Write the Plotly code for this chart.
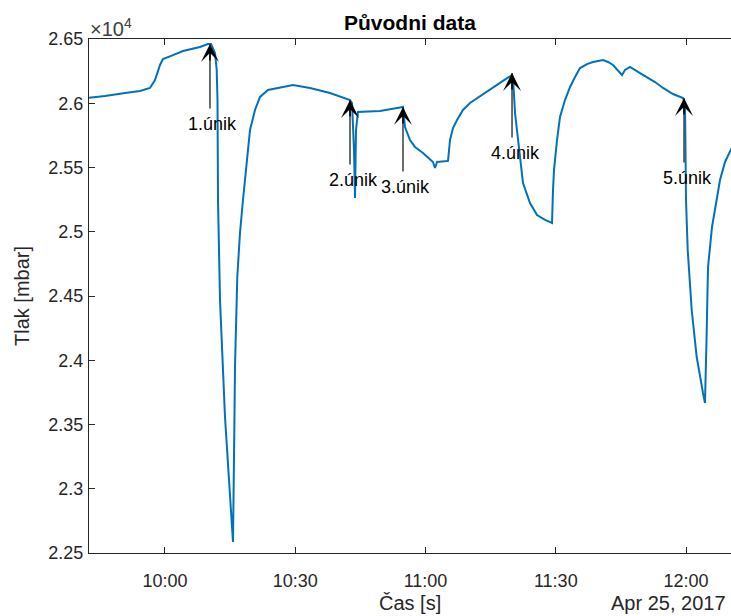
import pandas as pd
import plotly.graph_objects as go

# ---- data ----
# time in minutes after 10:00 on 2017-04-25, pressure in mbar
time_min = [-17.50, -13.82, -9.21, -5.76, -3.45, -2.30, -1.15, -0.46, 1.84, 4.15,
            8.06, 9.90, 10.59, 11.52, 11.91, 12.09, 12.21, 12.67, 13.82, 14.97,
            15.66, 15.96, 16.12, 16.65, 17.27, 17.96, 18.82, 19.58, 20.73, 21.88,
            23.72, 26.49, 29.48, 33.39, 38.00, 42.61, 43.07, 43.53, 43.76, 43.99,
            44.45, 49.52, 54.81, 55.27, 56.43, 57.58, 59.42, 61.72, 62.18, 62.65,
            65.18, 65.64, 66.33, 67.25, 68.63, 70.24, 72.55, 74.85, 77.15, 79.92,
            80.15, 80.61, 81.30, 82.45, 84.06, 85.68, 87.52, 89.13, 89.36, 89.59,
            90.28, 90.97, 92.12, 93.28, 94.43, 95.58, 97.19, 98.57, 100.88, 102.03,
            103.18, 104.33, 105.25, 105.94, 107.09, 109.40, 111.01, 112.85, 114.70, 117.00,
            119.30, 119.76, 119.99, 120.38, 121.30, 122.45, 123.90, 124.36, 124.71, 125.06,
            125.98, 127.13, 127.82, 128.97, 130.50]
pressure = [26043, 26056, 26080, 26095, 26119, 26181, 26298, 26344, 26375, 26407,
            26438, 26461, 26461, 26391, 26259, 26025, 25247, 24469, 23558, 22967,
            22586, 23434, 23948, 24648, 24990, 25247, 25535, 25792, 25948, 26049,
            26103, 26119, 26142, 26119, 26080, 26025, 26002, 25636, 25263, 25792,
            25932, 25940, 25971, 25815, 25714, 25660, 25613, 25543, 25496, 25543,
            25551, 25714, 25807, 25870, 25948, 26002, 26056, 26103, 26158, 26220,
            26197, 25924, 25714, 25379, 25224, 25130, 25092, 25068, 25325, 25481,
            25714, 25893, 26025, 26127, 26204, 26274, 26305, 26321, 26337, 26321,
            26298, 26259, 26220, 26259, 26282, 26235, 26204, 26165, 26119, 26072,
            26041, 25986, 25247, 24858, 24391, 24025, 23745, 23667, 24158, 24726,
            25037, 25247, 25403, 25543, 25650]

leak_labels = ["1.únik", "2.únik", "3.únik", "4.únik", "5.únik"]
leak_time_min = [10.36, 42.61, 54.81, 79.92, 119.53]
leak_pressure = [26461, 26025, 25971, 26235, 26041]

y_tick_vals = [22500, 23000, 23500, 24000, 24500, 25000, 25500, 26000, 26500]
y_tick_text = ["2.25", "2.3", "2.35", "2.4", "2.45", "2.5", "2.55", "2.6", "2.65"]
x_range_min = [-17.5, 130.35]

base = pd.Timestamp("2017-04-25 10:00:00")
to_t = lambda m: base + pd.to_timedelta(m, unit="min")
t = [to_t(m) for m in time_min]

FONT = "Liberation Sans, Arial, Helvetica, sans-serif"
AX = "#262626"

fig = go.Figure()
fig.add_trace(go.Scatter(x=t, y=pressure, mode="lines",
                         line=dict(color="#0072BD", width=2), hoverinfo="skip",
                         showlegend=False))

annotations = []
for lab, m, p in zip(leak_labels, leak_time_min, leak_pressure):
    tt = to_t(m)
    # gray shaft
    annotations.append(dict(x=tt, y=p, xref="x", yref="y", text="", showarrow=True,
                            arrowhead=0, arrowwidth=1.6, arrowcolor="#4a4a4a",
                            ax=0, ay=66, axref="pixel", ayref="pixel"))
    # black head
    annotations.append(dict(x=tt, y=p, xref="x", yref="y", text="", showarrow=True,
                            arrowhead=3, arrowsize=2.0, arrowwidth=1.5, arrowcolor="#000000",
                            ax=0, ay=18, axref="pixel", ayref="pixel"))
    annotations.append(dict(x=tt, y=p, xref="x", yref="y", text=lab, showarrow=False,
                            xshift=3, yshift=-80, font=dict(family=FONT, size=18, color="#000000")))

annotations += [
    dict(x=0.5, y=0.0, xref="paper", yref="paper", text="Čas [s]", showarrow=False,
         yanchor="middle", xanchor="center", yshift=-50,
         font=dict(family=FONT, size=20, color=AX)),
    dict(x=1.0, y=0.0, xref="paper", yref="paper", text="Apr 25, 2017", showarrow=False,
         xanchor="right", yanchor="middle", xshift=-3, yshift=-50,
         font=dict(family=FONT, size=20, color=AX)),
    dict(x=0.0, y=0.5, xref="paper", yref="paper", text="Tlak [mbar]", showarrow=False,
         textangle=-90, xanchor="center", yanchor="middle", xshift=-67,
         font=dict(family=FONT, size=20, color=AX)),
    dict(x=0.0, y=1.0, xref="paper", yref="paper", text="×10<sup>4</sup>", showarrow=False,
         xanchor="left", yanchor="bottom", xshift=-1, yshift=-3,
         font=dict(family=FONT, size=20, color="#404040")),
    dict(x=0.5, y=1.0, xref="paper", yref="paper", text="<b>Původni data</b>", showarrow=False,
         yanchor="bottom", xanchor="center", yshift=3,
         font=dict(family=FONT, size=21, color="#000000")),
]

fig.update_layout(
    width=731, height=616,
    margin=dict(l=89, r=0, t=39, b=63),
    paper_bgcolor="white", plot_bgcolor="white",
    annotations=annotations,
    showlegend=False,
)
fig.update_xaxes(
    range=[to_t(x_range_min[0]), to_t(x_range_min[1])],
    tickformat="%H:%M", dtick=30 * 60 * 1000, tick0=base,
    showgrid=False, zeroline=False,
    showline=True, linecolor=AX, linewidth=1, mirror="ticks",
    ticks="inside", ticklen=6, tickcolor=AX, tickwidth=1,
    tickfont=dict(family=FONT, size=18, color=AX), ticklabelstandoff=11,
)
fig.update_yaxes(
    range=[22500, 26500], tickvals=y_tick_vals, ticktext=y_tick_text,
    showgrid=False, zeroline=False,
    showline=True, linecolor=AX, linewidth=1, mirror=False,
    ticks="inside", ticklen=6, tickcolor=AX, tickwidth=1,
    tickfont=dict(family=FONT, size=18, color=AX), ticklabelstandoff=1,
)

# remove the browser's default 8 px body margin so the 731x616 figure fills the window
fig.write_html("out.html",
               config={"displayModeBar": False},
               post_script="document.body.style.margin='0';document.body.style.overflow='hidden';")
